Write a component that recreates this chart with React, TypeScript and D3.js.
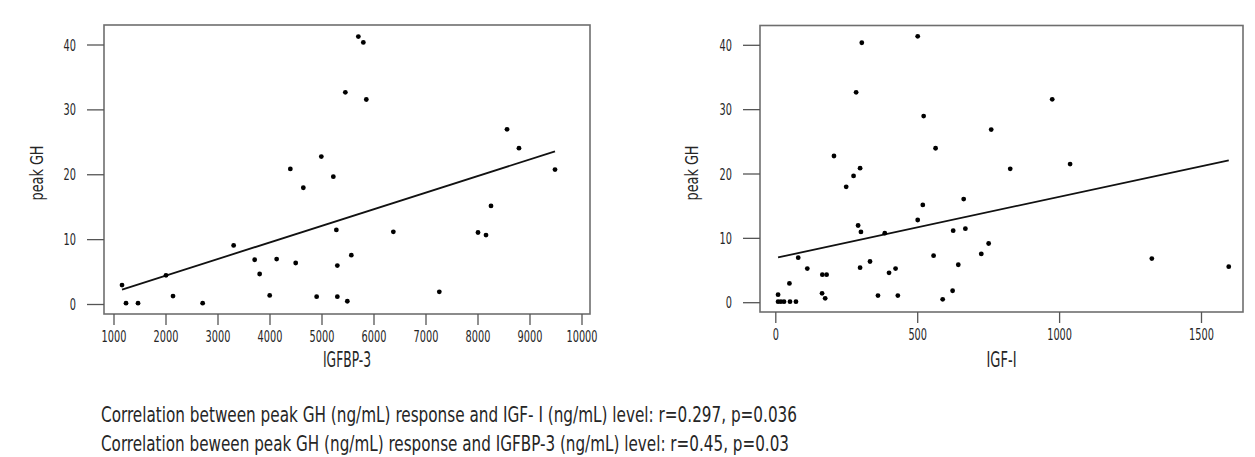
import React from "react";
import * as d3 from "d3";

// IGFBP-3 (ng/mL) vs peak GH
const igfbp3X = [
  1154, 1231, 1462, 2000, 2135, 2705, 3301, 3705, 3801, 3994, 4128, 4391,
  4494, 4641, 4897, 4987, 5218, 5276, 5295, 5295, 5449, 5487, 5564, 5699,
  5795, 5852, 6372, 7256, 8000, 8154, 8250, 8558, 8788, 9481,
];
const igfbp3GH = [
  3.0, 0.2, 0.2, 4.5, 1.3, 0.2, 9.1, 6.9, 4.7, 1.4, 7.0, 20.9, 6.4, 18.0,
  1.2, 22.8, 19.7, 11.5, 6.0, 1.2, 32.7, 0.5, 7.6, 41.3, 40.4, 31.6, 11.2,
  1.95, 11.1, 10.7, 15.2, 27.0, 24.1, 20.8,
];

// IGF-I (ng/mL) vs peak GH
const igf1X = [
  8, 8, 18, 29, 50, 71, 48, 79, 111, 163, 174, 164, 179, 205, 248, 274, 283,
  290, 297, 300, 303, 297, 332, 360, 384, 399, 422, 430, 500, 500, 518, 521,
  556, 563, 588, 623, 625, 643, 662, 668, 724, 750, 759, 826, 974, 1037,
  1325, 1596,
];
const igf1GH = [
  1.24, 0.16, 0.16, 0.16, 0.16, 0.16, 3.0, 7.0, 5.3, 1.46, 0.68, 4.35, 4.35,
  22.8, 18.0, 19.7, 32.7, 12.0, 20.9, 11.0, 40.4, 5.45, 6.4, 1.1, 10.8, 4.65,
  5.3, 1.1, 41.4, 12.85, 15.2, 29.0, 7.3, 24.0, 0.53, 1.86, 11.2, 5.9, 16.1,
  11.5, 7.6, 9.2, 26.9, 20.8, 31.6, 21.55, 6.85, 5.6,
];

// fitted lines [intercept, slope]
const igfbp3Fit = [-0.652, 0.002558];
const igf1Fit = [6.96, 0.009507];

const ghTicks = [0, 10, 20, 30, 40];
const igfbp3Ticks = [1000, 2000, 3000, 4000, 5000, 6000, 7000, 8000, 9000, 10000];
const igf1Ticks = [0, 500, 1000, 1500];

const captions = [
  "Correlation between peak GH (ng/mL) response and IGF- I (ng/mL) level: r=0.297, p=0.036",
  "Correlation beween peak GH (ng/mL) response and IGFBP-3 (ng/mL) level: r=0.45, p=0.03",
];

const FONT = "'Liberation Sans Narrow', 'DejaVu Sans Condensed', sans-serif";
const FRAME = "#6e6e6e";
const TICK = "#555";
const INK = "#262626";

type PanelProps = {
  xs: number[];
  ys: number[];
  fit: number[];
  xTicks: number[];
  xTitle: string;
  xTitleLen: number;
  frame: { l: number; r: number; t: number; b: number };
  xRange: [number, number];
  xDomain: [number, number];
  yRange: [number, number];
  yLabelX: number;
};

const Panel = ({ xs, ys, fit, xTicks, xTitle, xTitleLen, frame, xRange, xDomain, yRange, yLabelX }: PanelProps) => {
  const x = d3.scaleLinear().domain(xDomain).range(xRange);
  const y = d3.scaleLinear().domain([0, 40]).range(yRange);
  const [x0, x1] = d3.extent(xs) as [number, number];
  const line = d3
    .line<number>()
    .x((d) => x(d))
    .y((d) => y(fit[0] + fit[1] * d));
  const cx = (frame.l + frame.r) / 2;

  return (
    <g fontFamily={FONT} fill={INK}>
      <rect
        x={frame.l}
        y={frame.t}
        width={frame.r - frame.l}
        height={frame.b - frame.t}
        fill="none"
        stroke={FRAME}
        strokeWidth={1.6}
      />
      {ghTicks.map((t) => (
        <g key={t}>
          <line x1={frame.l - 17} x2={frame.l} y1={y(t)} y2={y(t)} stroke={TICK} strokeWidth={1.3} />
          <text
            x={frame.l - 28}
            y={y(t) + 5.5}
            textAnchor="end"
            fontSize={16}
            textLength={String(t).length * 6.2}
            lengthAdjust="spacingAndGlyphs"
          >
            {t}
          </text>
        </g>
      ))}
      {xTicks.map((t) => (
        <g key={t}>
          <line x1={x(t)} x2={x(t)} y1={frame.b} y2={frame.b + 11} stroke={TICK} strokeWidth={1.3} />
          <text
            x={x(t)}
            y={frame.b + 28}
            textAnchor="middle"
            fontSize={16}
            textLength={String(t).length * 6.2}
            lengthAdjust="spacingAndGlyphs"
          >
            {t}
          </text>
        </g>
      ))}
      <text
        x={cx}
        y={367}
        textAnchor="middle"
        fontSize={22}
        textLength={xTitleLen}
        lengthAdjust="spacingAndGlyphs"
      >
        {xTitle}
      </text>
      <text
        transform={`translate(${yLabelX},${173}) rotate(-90)`}
        textAnchor="middle"
        fontSize={17}
        textLength={55}
        lengthAdjust="spacingAndGlyphs"
      >
        peak GH
      </text>
      <path d={line([x0, x1]) ?? ""} fill="none" stroke="#111" strokeWidth={1.8} />
      {xs.map((v, i) => (
        <circle key={i} cx={x(v)} cy={y(ys[i])} r={2.4} fill="#000" />
      ))}
    </g>
  );
};

export default function App() {
  return (
    <div style={{ position: "absolute", left: 0, top: 0 }}>
      <svg width={1255} height={457} style={{ display: "block", background: "#fff" }}>
        <Panel
          xs={igfbp3X}
          ys={igfbp3GH}
          fit={igfbp3Fit}
          xTicks={igfbp3Ticks}
          xTitle="IGFBP-3"
          xTitleLen={48}
          frame={{ l: 104, r: 590, t: 25, b: 314 }}
          xDomain={[1000, 10000]}
          xRange={[114, 582]}
          yRange={[304.5, 45]}
          yLabelX={43}
        />
        <Panel
          xs={igf1X}
          ys={igf1GH}
          fit={igf1Fit}
          xTicks={igf1Ticks}
          xTitle="IGF-I"
          xTitleLen={30}
          frame={{ l: 760, r: 1243, t: 25.5, b: 312 }}
          xDomain={[0, 1500]}
          xRange={[775.8, 1201.5]}
          yRange={[302.7, 45.3]}
          yLabelX={698}
        />
        <g fontFamily={FONT} fill={INK} fontSize={22}>
          <text x={101} y={421.5} textLength={696} lengthAdjust="spacingAndGlyphs">
            {captions[0]}
          </text>
          <text x={101} y={450.5} textLength={688} lengthAdjust="spacingAndGlyphs">
            {captions[1]}
          </text>
        </g>
      </svg>
    </div>
  );
}
